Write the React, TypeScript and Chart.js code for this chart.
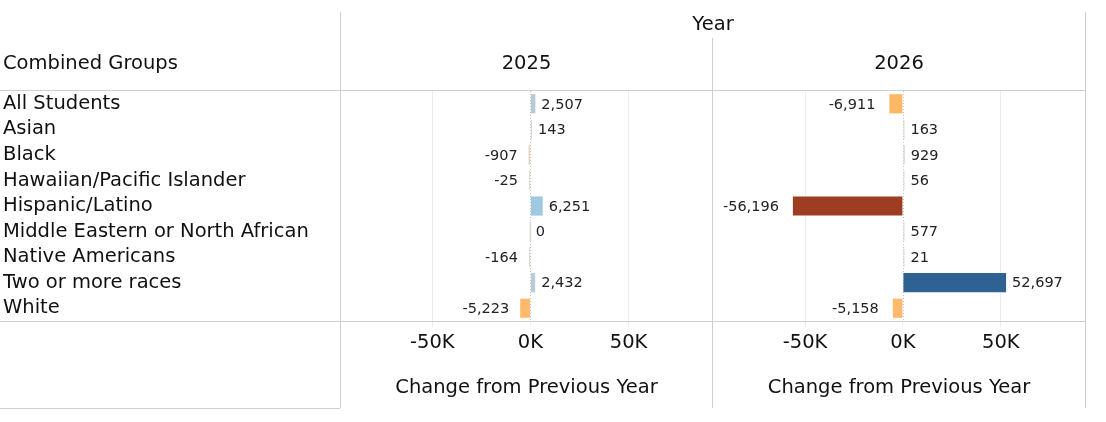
import React, { useEffect, useRef } from "react";
import { Chart, registerables } from "chart.js";

Chart.register(...registerables);

const categories = [
  "All Students",
  "Asian",
  "Black",
  "Hawaiian/Pacific Islander",
  "Hispanic/Latino",
  "Middle Eastern or North African",
  "Native Americans",
  "Two or more races",
  "White",
];
const years = ["2025", "2026"];
const values2025 = [2507, 143, -907, -25, 6251, 0, -164, 2432, -5223];
const values2026 = [-6911, 163, 929, 56, -56196, 577, 21, 52697, -5158];
const colors2025 = ["#b6cbd3", "#ddd6cb", "#e5cdb0", "#e0d7cc", "#9ecae1", "#dcd6cf", "#e2d5c5", "#b8ccd4", "#fdba6b"];
const colors2026 = ["#fdb866", "#d9d6d0", "#d3d6d5", "#d9d6d0", "#9e3d22", "#d5d6d4", "#dad6cf", "#2e6292", "#fdba6c"];
const tickValues = [-50000, 0, 50000];
const axisTitle = "Change from Previous Year";
const headerTitle = "Year";
const rowHeader = "Combined Groups";

const FONT = "'DejaVu Sans', sans-serif";
const BIG = 19.5;
const SMALL = 14.5;
const W = 1106;
const H = 422;
const LINE = "#cfcfcf";

function makeOverlay(which: number) {
  return {
    id: "overlay" + which,
    beforeDatasetsDraw(chart: any) {
      const ctx = chart.ctx;
      const a = chart.chartArea;
      const xs = chart.scales.x;
      const z = Math.round(xs.getPixelForValue(0)) + 0.5;
      ctx.save();
      ctx.strokeStyle = "#c4c4c4";
      ctx.lineWidth = 1;
      ctx.setLineDash([1, 2]);
      ctx.beginPath();
      ctx.moveTo(z, a.top);
      ctx.lineTo(z, a.bottom);
      ctx.stroke();
      ctx.restore();
    },
    afterDraw(chart: any) {
      const ctx = chart.ctx;
      const a = chart.chartArea;
      ctx.save();
      ctx.strokeStyle = LINE;
      ctx.lineWidth = 1;
      const line = (x1: number, y1: number, x2: number, y2: number) => {
        ctx.beginPath();
        ctx.moveTo(x1, y1);
        ctx.lineTo(x2, y2);
        ctx.stroke();
      };
      ctx.fillStyle = "#111";
      ctx.textBaseline = "middle";
      ctx.font = BIG + "px " + FONT;
      if (which === 0) {
        line(0, 90.5, a.right, 90.5);
        line(0, 321.5, a.right, 321.5);
        line(340.5, 12, 340.5, 408);
        line(712.5, 38, 712.5, 408);
        line(0, 408.5, 340, 408.5);
        ctx.textAlign = "left";
        ctx.fillText(rowHeader, 3, 64);
        ctx.textAlign = "center";
        ctx.fillText(years[0], (a.left + a.right) / 2, 64);
      } else {
        line(a.left, 90.5, a.right, 90.5);
        line(a.left, 321.5, a.right, 321.5);
        line(a.right + 0.5, 12, a.right + 0.5, 408);
        ctx.textAlign = "center";
        ctx.fillText(years[1], (a.left + a.right) / 2, 64);
        ctx.fillText(headerTitle, a.left, 25);
      }
      // value labels
      const meta = chart.getDatasetMeta(0);
      const data = chart.data.datasets[0].data;
      ctx.font = SMALL + "px " + FONT;
      ctx.fillStyle = "#222";
      meta.data.forEach((el: any, i: number) => {
        const v = data[i];
        const txt = v.toLocaleString("en-US");
        if (v >= 0) {
          ctx.textAlign = "left";
          ctx.fillText(txt, el.x + 6, el.y + 1);
        } else {
          ctx.textAlign = "right";
          ctx.fillText(txt, el.x - (which === 0 ? 11 : 14), el.y + 1);
        }
      });
      ctx.restore();
    },
  };
}

function makeConfig(which: number): any {
  const data = which === 0 ? values2025 : values2026;
  const colors = which === 0 ? colors2025 : colors2026;
  return {
    type: "bar",
    data: {
      labels: categories,
      datasets: [
        {
          data,
          backgroundColor: colors,
          borderWidth: 0,
          barPercentage: 0.75,
          categoryPercentage: 1,
          minBarLength: 1.5,
        },
      ],
    },
    options: {
      indexAxis: "y",
      animation: false,
      responsive: false,
      events: [],
      layout: {
        padding:
          which === 0
            ? { left: 3, right: W - 713, top: 91, bottom: 14 }
            : { left: 713, right: W - 1085, top: 91, bottom: 14 },
      },
      plugins: {
        legend: { display: false },
        tooltip: { enabled: false },
        title: { display: false },
      },
      scales: {
        x: {
          type: "linear",
          min: -97000,
          max: 93000,
          afterBuildTicks: (s: any) => {
            s.ticks = tickValues.map((v) => ({ value: v }));
          },
          afterFit: (s: any) => {
            s.height = 87;
          },
          grid: {
            display: true,
            color: (c: any) => (c.tick && c.tick.value === 0 ? "rgba(0,0,0,0)" : "#ececec"),
            tickColor: "#ececec",
            drawTicks: true,
            tickLength: 6,
          },
          border: { display: false },
          ticks: {
            color: "#111",
            font: { family: FONT, size: BIG },
            padding: 4,
            maxRotation: 0,
            callback: (v: any) => Math.round(Number(v) / 1000) + "K",
          },
          title: {
            display: true,
            text: axisTitle,
            color: "#111",
            font: { family: FONT, size: BIG },
            padding: { top: 0, bottom: 8 },
          },
        },
        y: {
          type: "category",
          display: which === 0,
          afterFit: (s: any) => {
            s.width = which === 0 ? 337 : 0;
          },
          grid: { display: false },
          border: { display: false },
          ticks: {
            color: "#111",
            crossAlign: "far",
            padding: 0,
            autoSkip: false,
            font: { family: FONT, size: BIG },
          },
        },
      },
    },
    plugins: [makeOverlay(which)],
  };
}

export default function App() {
  const refA = useRef<HTMLCanvasElement | null>(null);
  const refB = useRef<HTMLCanvasElement | null>(null);
  useEffect(() => {
    const a = new Chart(refA.current as HTMLCanvasElement, makeConfig(0));
    const b = new Chart(refB.current as HTMLCanvasElement, makeConfig(1));
    return () => {
      a.destroy();
      b.destroy();
    };
  }, []);
  const cs: React.CSSProperties = { position: "absolute", left: 0, top: 0, width: W, height: H };
  return (
    <div style={{ position: "absolute", left: 0, top: 0, width: W, height: H, background: "#fff" }}>
      <canvas ref={refA} width={W} height={H} style={cs} />
      <canvas ref={refB} width={W} height={H} style={cs} />
    </div>
  );
}
